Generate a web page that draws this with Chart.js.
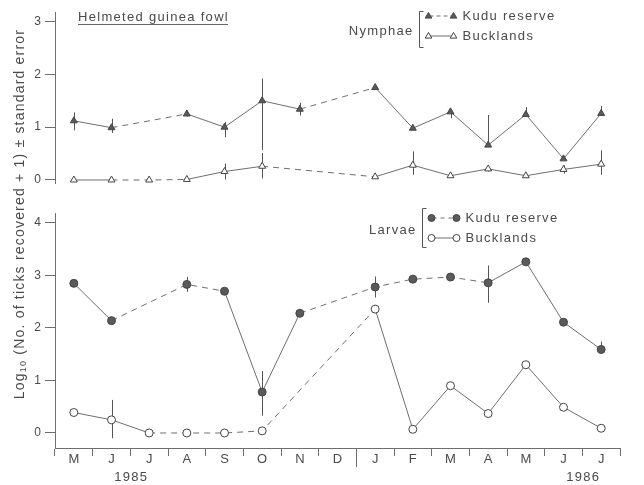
<!DOCTYPE html>
<html>
<head>
<meta charset="utf-8">
<script src="https://cdn.jsdelivr.net/npm/chart.js@4.4.1/dist/chart.umd.min.js"></script>
<style>
  html, body { margin: 0; padding: 0; background: #fff; }
  #wrap { width: 644px; height: 485px; position: relative; }
</style>
</head>
<body>
<div id="wrap"><canvas id="c" width="644" height="485"></canvas></div>
<script>
// Months sampled, May 1985 to July 1986
const months = ['M', 'J', 'J', 'A', 'S', 'O', 'N', 'D', 'J', 'F', 'M', 'A', 'M', 'J', 'J'];
const years = ['1985', '1986'];
const yearLabelAt = [1.5, 13.5];   // category position under which each year is written
const yearBreakAt = 7.5;           // boundary between December and January
const nymphTicks = [0, 1, 2, 3];
const larvaTicks = [0, 1, 2, 3, 4];

// Nymphae, log10(n + 1)
const nymphKudu     = [1.12, 0.99, null, 1.25, 1.00, 1.50, 1.34, null, 1.75, 0.98, 1.29, 0.66, 1.24, 0.40, 1.26];
const nymphKuduUp   = [0.16, 0.17, 0, 0.05, 0.10, 0.42, 0.12, 0, 0, 0, 0, 0.57, 0.14, 0, 0.14];
const nymphKuduDown = [0.18, 0.10, 0, 0.05, 0.19, 0.93, 0.12, 0, 0, 0, 0.12, 0, 0, 0, 0];
const nymphBuck     = [0.00, 0.00, 0.00, 0.01, 0.16, 0.26, null, null, 0.06, 0.28, 0.08, 0.21, 0.08, 0.20, 0.30];
const nymphBuckUp   = [0, 0, 0, 0, 0.15, 0.25, 0, 0, 0, 0.26, 0, 0.05, 0, 0.08, 0.26];
const nymphBuckDown = [0, 0, 0, 0, 0.15, 0.23, 0, 0, 0, 0.18, 0, 0.05, 0, 0.08, 0.20];

// Larvae, log10(n + 1)
const larvaKudu     = [2.85, 2.14, null, 2.83, 2.70, 0.78, 2.28, null, 2.78, 2.93, 2.97, 2.86, 3.26, 2.11, 1.59];
const larvaKuduUp   = [0, 0.05, 0, 0.14, 0.05, 0.40, 0, 0, 0.20, 0, 0, 0.33, 0, 0, 0.15];
const larvaKuduDown = [0, 0.05, 0, 0.14, 0.05, 0.45, 0, 0, 0.20, 0, 0, 0.38, 0, 0, 0];
const larvaBuck     = [0.39, 0.25, 0.00, 0.00, 0.00, 0.04, null, null, 2.36, 0.07, 0.90, 0.37, 1.30, 0.49, 0.09];
const larvaBuckUp   = [0, 0.38, 0, 0, 0, 0, 0, 0, 0, 0, 0, 0, 0, 0, 0];
const larvaBuckDown = [0, 0.35, 0, 0, 0, 0, 0, 0, 0, 0, 0, 0, 0, 0, 0];

const INK = '#4a4a4a';
const LINE = '#6e6e6e';
const FONT = "'Liberation Sans', Arial, Helvetica, sans-serif";

// a segment is dashed where it bridges a month with no sample,
// or where it starts at one of the listed months
function dashRule(dashedFrom) {
  return ctx => (ctx.p0.skip || ctx.p1.skip || dashedFrom.includes(ctx.p0DataIndex)) ? [6, 5] : undefined;
}

function series(data, up, down, axis, style, filled, dashedFrom) {
  return {
    data, errUp: up, errDown: down, yAxisID: axis,
    borderColor: LINE, borderWidth: 1, tension: 0, spanGaps: true,
    segment: { borderDash: dashRule(dashedFrom) },
    pointStyle: style, pointRadius: 4, pointHoverRadius: 4,
    pointBorderWidth: 1, pointBorderColor: '#444',
    pointBackgroundColor: filled ? '#5a5a5a' : '#ffffff'
  };
}

function drawMarker(ctx, style, x, y, r, filled) {
  ctx.save();
  ctx.beginPath();
  if (style === 'triangle') {
    ctx.moveTo(x, y - r);
    ctx.lineTo(x + r * 0.95, y + r * 0.6);
    ctx.lineTo(x - r * 0.95, y + r * 0.6);
    ctx.closePath();
  } else {
    ctx.arc(x, y, r, 0, Math.PI * 2);
  }
  ctx.fillStyle = filled ? '#5a5a5a' : '#fff';
  ctx.fill();
  ctx.lineWidth = 1;
  ctx.strokeStyle = '#444';
  ctx.stroke();
  ctx.restore();
}

function spacedText(ctx, text, x, y, size, align) {
  ctx.font = size + 'px ' + FONT;
  ctx.letterSpacing = '1.3px';
  ctx.textAlign = align || 'left';
  ctx.textBaseline = 'middle';
  ctx.fillText(text, x, y);
  const w = ctx.measureText(text).width;
  ctx.letterSpacing = '0px';
  return w;
}

function bracketLegend(ctx, name, bx, top, bottom, rows) {
  ctx.save();
  ctx.fillStyle = INK;
  spacedText(ctx, name, bx - 6, (top + bottom) / 2 + 2, 13, 'right');
  ctx.strokeStyle = '#555';
  ctx.lineWidth = 1;
  ctx.beginPath();
  ctx.moveTo(bx + 4, top); ctx.lineTo(bx, top); ctx.lineTo(bx, bottom); ctx.lineTo(bx + 4, bottom);
  ctx.stroke();
  rows.forEach(r => {
    ctx.save();
    ctx.strokeStyle = LINE;
    ctx.setLineDash(r.dash);
    ctx.beginPath();
    ctx.moveTo(bx + 10, r.y); ctx.lineTo(bx + 33, r.y);
    ctx.stroke();
    ctx.restore();
    drawMarker(ctx, r.style, bx + 9, r.y, 3.5, r.filled);
    drawMarker(ctx, r.style, bx + 34, r.y, 3.5, r.filled);
    ctx.fillStyle = INK;
    spacedText(ctx, r.label, bx + 43, r.y, 13);
  });
  ctx.restore();
}

const decorations = {
  id: 'decorations',
  beforeDatasetsDraw(chart) {
    const ctx = chart.ctx;
    ctx.save();
    ctx.strokeStyle = '#555';
    ctx.lineWidth = 1;
    chart.data.datasets.forEach((ds, i) => {
      const meta = chart.getDatasetMeta(i);
      const ys = chart.scales[ds.yAxisID];
      ds.data.forEach((v, j) => {
        if (v === null) return;
        const up = ds.errUp[j] || 0, dn = ds.errDown[j] || 0;
        if (!up && !dn) return;
        const x = Math.round(meta.data[j].x) + 0.5;
        ctx.beginPath();
        ctx.moveTo(x, ys.getPixelForValue(v + up));
        ctx.lineTo(x, ys.getPixelForValue(v - dn));
        ctx.stroke();
      });
    });
    ctx.restore();
  },
  afterDraw(chart) {
    const ctx = chart.ctx;
    const xs = chart.scales.x;
    const area = chart.chartArea;
    ctx.save();

    // year divider on the time axis
    const bx = Math.round(xs.getPixelForValue(yearBreakAt)) + 0.5;
    ctx.strokeStyle = LINE;
    ctx.lineWidth = 1;
    ctx.beginPath();
    ctx.moveTo(bx, xs.top);
    ctx.lineTo(bx, xs.top + 19);
    ctx.stroke();

    // year labels
    ctx.fillStyle = INK;
    years.forEach((t, k) => {
      spacedText(ctx, t, xs.getPixelForValue(yearLabelAt[k]) + 1, xs.top + 29, 13, 'center');
    });

    // panel heading, underlined
    ctx.fillStyle = INK;
    const tw = spacedText(ctx, 'Helmeted guinea fowl', area.left + 23, 17, 13);
    ctx.strokeStyle = '#666';
    ctx.beginPath();
    ctx.moveTo(area.left + 23, 24.5);
    ctx.lineTo(area.left + 23 + tw - 1, 24.5);
    ctx.stroke();

    // legends
    bracketLegend(ctx, 'Nymphae', 419.5, 11.5, 47.5, [
      { label: 'Kudu reserve', y: 16, style: 'triangle', filled: true, dash: [4, 3] },
      { label: 'Bucklands', y: 36, style: 'triangle', filled: false, dash: [] }
    ]);
    bracketLegend(ctx, 'Larvae', 422.5, 208.5, 247.5, [
      { label: 'Kudu reserve', y: 218, style: 'circle', filled: true, dash: [4, 4] },
      { label: 'Bucklands', y: 238, style: 'circle', filled: false, dash: [] }
    ]);

    // shared vertical axis title
    ctx.save();
    ctx.translate(20, (area.top + area.bottom) / 2 - 16);
    ctx.rotate(-Math.PI / 2);
    ctx.fillStyle = INK;
    ctx.textBaseline = 'middle';
    ctx.textAlign = 'left';
    ctx.letterSpacing = '1.2px';
    const big = '14px ' + FONT, small = '9px ' + FONT;
    const rest = ' (No. of ticks recovered + 1) \u00B1 standard error';
    ctx.font = big;  const w1 = ctx.measureText('Log').width;
    ctx.font = small; const w2 = ctx.measureText('10').width;
    ctx.font = big;  const w3 = ctx.measureText(rest).width;
    let x0 = -(w1 + w2 + w3) / 2;
    ctx.font = big;  ctx.fillText('Log', x0, 0);
    ctx.font = small; ctx.fillText('10', x0 + w1, 4);
    ctx.font = big;  ctx.fillText(rest, x0 + w1 + w2, 0);
    ctx.restore();

    ctx.restore();
  }
};

const yAxis = (ticksArr, min, max, weightInStack, order) => ({
  type: 'linear', position: 'left', stack: 'panels', stackWeight: weightInStack, weight: order,
  min, max,
  afterBuildTicks: s => { s.ticks = ticksArr.map(v => ({ value: v })); },
  afterFit: s => { s.width = 55; },
  grid: { drawOnChartArea: false, drawTicks: true, tickLength: 10, color: LINE, lineWidth: 1 },
  border: { display: true, color: LINE, width: 1 },
  ticks: { color: INK, font: { family: FONT, size: 12 }, padding: 4 }
});

new Chart(document.getElementById('c'), {
  type: 'line',
  data: {
    labels: months,
    datasets: [
      series(nymphKudu, nymphKuduUp, nymphKuduDown, 'yN', 'triangle', true, []),
      series(nymphBuck, nymphBuckUp, nymphBuckDown, 'yN', 'triangle', false, [1, 2]),
      series(larvaKudu, larvaKuduUp, larvaKuduDown, 'yL', 'circle', true, [3, 8, 9, 10]),
      series(larvaBuck, larvaBuckUp, larvaBuckDown, 'yL', 'circle', false, [2, 3, 4])
    ]
  },
  options: {
    responsive: false,
    animation: false,
    devicePixelRatio: 1,
    layout: { padding: { left: 0, right: 24, top: 12, bottom: 0 } },
    plugins: { legend: { display: false }, tooltip: { enabled: false } },
    events: [],
    scales: {
      x: {
        type: 'category', offset: true,
        grid: { offset: true, drawOnChartArea: false, drawTicks: true, tickLength: 8, color: LINE },
        border: { display: true, color: LINE, width: 1 },
        ticks: { color: INK, font: { family: FONT, size: 13 }, padding: -4, autoSkip: false, maxRotation: 0 },
        afterFit: s => { s.height = 37; }
      },
      yN: yAxis(nymphTicks, -0.057, 3.18, 171, 3),
      yGap: {
        type: 'linear', position: 'left', stack: 'panels', stackWeight: 30, weight: 2,
        min: 0, max: 1,
        afterFit: s => { s.width = 55; },
        grid: { display: false }, border: { display: false }, ticks: { display: false }
      },
      yL: yAxis(larvaTicks, -0.286, 4.19, 235, 1)
    }
  },
  plugins: [decorations]
});
</script>
</body>
</html>
